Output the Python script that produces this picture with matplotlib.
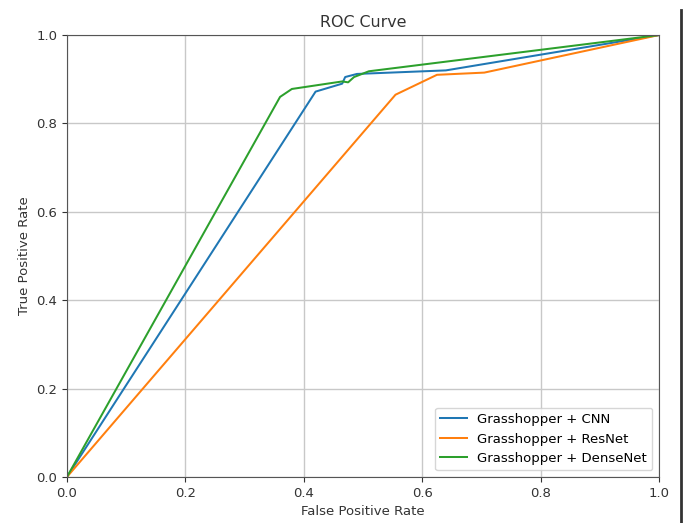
import matplotlib

matplotlib.use("Agg")

import matplotlib.pyplot as plt
from matplotlib.lines import Line2D

# ROC points
cnn_fpr = [0.0, 0.42, 0.465, 0.47, 0.49, 0.64, 1.0]
cnn_tpr = [0.0, 0.872, 0.89, 0.905, 0.912, 0.92, 1.0]

resnet_fpr = [0.0, 0.555, 0.625, 0.705, 1.0]
resnet_tpr = [0.0, 0.865, 0.91, 0.915, 1.0]

densenet_fpr = [0.0, 0.36, 0.38, 0.465, 0.475, 0.485, 0.51, 1.0]
densenet_tpr = [0.0, 0.86, 0.878, 0.895, 0.893, 0.905, 0.918, 1.0]

labels = ["Grasshopper + CNN", "Grasshopper + ResNet", "Grasshopper + DenseNet"]

fig = plt.figure(figsize=(6.9, 5.23), dpi=100)
ax = fig.add_axes([0.097, 0.088, 0.858, 0.845])

ax.plot(cnn_fpr, cnn_tpr, color="#1f77b4", lw=1.45, label=labels[0])
ax.plot(resnet_fpr, resnet_tpr, color="#ff7f0e", lw=1.45, label=labels[1])
ax.plot(densenet_fpr, densenet_tpr, color="#2ca02c", lw=1.45, label=labels[2])

ax.set_xlim(0, 1)
ax.set_ylim(0, 1)
ax.set_xticks([0, 0.2, 0.4, 0.6, 0.8, 1.0])
ax.set_yticks([0, 0.2, 0.4, 0.6, 0.8, 1.0])
ax.tick_params(labelsize=9.5, colors="#333333")
ax.set_xlabel("False Positive Rate", fontsize=9.5, color="#333333")
ax.set_ylabel("True Positive Rate", fontsize=9.5, color="#333333")
ax.set_title("ROC Curve", fontsize=11.4, color="#333333")
ax.grid(True, color="#c8c8c8", lw=1)
for spine in ax.spines.values():
    spine.set_color("#555555")
ax.legend(loc="lower right", fontsize=9.5)

# dark border on the right edge of the screenshot
fig.add_artist(Line2D([681 / 690, 681 / 690], [0, 1 - 10 / 523],
                      transform=fig.transFigure, color="#333333", lw=2))

fig.savefig("out.png", dpi=100)
